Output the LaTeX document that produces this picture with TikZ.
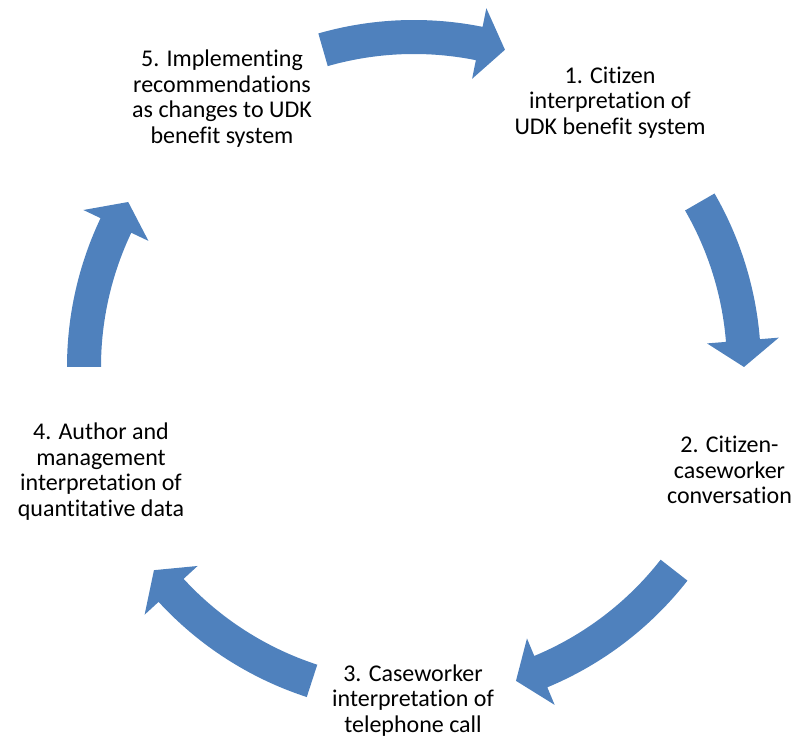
\documentclass[tikz,border=0pt]{standalone}
\usepackage{fontspec}
\setmainfont{Carlito}[Ligatures=NoCommon]
\definecolor{arrowblue}{HTML}{4F81BD}
\newcommand{\cyclearrow}[2]{%
  \pgfmathsetmacro{\headangle}{#2+4.6*sign(#1-#2)}%
  \fill[cyclearrowstyle]
    (#1:347pt) arc[start angle=#1, end angle=\headangle, radius=347pt]
    -- (\headangle:366pt) -- (#2:330pt) -- (\headangle:294pt)
    -- (\headangle:313pt) arc[start angle=\headangle, end angle=#1, radius=313pt]
    -- cycle;}
\tikzset{
  cyclearrowstyle/.style={fill=arrowblue},
  steptext/.style={align=center, inner sep=0pt, text=black,
    font=\fontsize{24pt}{25.5pt}\selectfont}
}
\begin{document}
\begin{tikzpicture}[x=1pt,y=1pt]
\useasboundingbox (0,0) rectangle (795,738);
\begin{scope}[shift={(414,371)}]
  \cyclearrow{106}{74}
  \cyclearrow{30}{0}
  \cyclearrow{-38}{-72}
  \cyclearrow{-108}{-142}
  \cyclearrow{180}{150}
\end{scope}
\node[steptext] (n1) at (610,635.5) {1. Citizen\\interpretation of\\UDK benefit system};
\node[steptext] (n2) at (729.5,268) {2. Citizen-\\caseworker\\conversation};
\node[steptext] (n3) at (413,37.5) {3. Caseworker\\interpretation of\\telephone call};
\node[steptext] (n4) at (101,266.5) {4. Author and\\management\\interpretation of\\quantitative data};
\node[steptext] (n5) at (222,639.5) {5. Implementing\\recommendations\\as changes to UDK\\benefit system};
\end{tikzpicture}
\end{document}
